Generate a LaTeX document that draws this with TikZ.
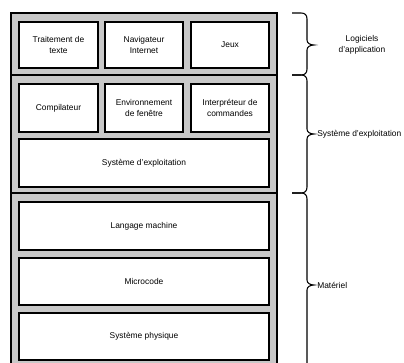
\documentclass[tikz,border=0pt]{standalone}
\usepackage{fontspec}
\setmainfont{Liberation Sans}
\definecolor{layergray}{RGB}{200,200,200}
\begin{document}
\begin{tikzpicture}[x=0.75pt,y=-0.75pt,
  box/.style={draw=black,fill=white,line width=1.5pt,align=center,
    font=\fontsize{6.3}{8}\selectfont,inner sep=0pt},
  layerframe/.style={draw=black,fill=layergray,line width=1.5pt},
  bracepath/.style={draw=black,line width=0.8pt},
  bracelabel/.style={font=\fontsize{6.3}{8}\selectfont,align=center,inner sep=0pt}]
\useasboundingbox (0,0) rectangle (404,363);
\clip (0,0) rectangle (404,363);

% layered frame
\path[layerframe] (11,13) rectangle (277,376);
\draw[line width=1.5pt] (11,75) -- (277,75);
\draw[line width=1.5pt] (11,193) -- (277,193);

% application software
\node[box,minimum width=59.25pt,minimum height=34.5pt] (txt) at (58.5,45) {Traitement de\\texte};
\node[box,minimum width=58.5pt,minimum height=34.5pt] (nav) at (144,45) {Navigateur\\Internet};
\node[box,minimum width=58.5pt,minimum height=34.5pt] (jeux) at (230,45) {Jeux};

% operating system
\node[box,minimum width=59.25pt,minimum height=36pt] (comp) at (58.5,108) {Compilateur};
\node[box,minimum width=58.5pt,minimum height=36pt] (env) at (144,108) {Environnement\\de fenêtre};
\node[box,minimum width=58.5pt,minimum height=36pt] (interp) at (230,108) {Interpréteur de\\commandes};
\node[box,minimum width=187.5pt,minimum height=36pt] (os) at (144,163) {Système d'exploitation};

% hardware
\node[box,minimum width=187.5pt,minimum height=36pt] (lm) at (144,226) {Langage machine};
\node[box,minimum width=187.5pt,minimum height=35.25pt] (mc) at (144,281.5) {Microcode};
\node[box,minimum width=187.5pt,minimum height=35.25pt] (phys) at (144,336.5) {Système physique};

% braces
\foreach \t/\m/\b in {13/45/75, 75/134/193, 193/285/376}{
  \draw[bracepath]
    (292,\t) -- (301,\t) .. controls (305,\t) and (307,\t+2) .. (307,\t+6)
    -- (307,\m-5) .. controls (307,\m-2) and (310,\m) .. (314,\m)
    .. controls (310,\m) and (307,\m+2) .. (307,\m+5)
    -- (307,\b-6) .. controls (307,\b-2) and (305,\b) .. (301,\b) -- (292,\b);
}
\node[bracelabel] (lapp) at (362,45) {Logiciels\\d'application};
\node[bracelabel,anchor=west] (lsys) at (317,134) {Système d'exploitation};
\node[bracelabel,anchor=west] (lmat) at (317,285) {Matériel};
\end{tikzpicture}
\end{document}
